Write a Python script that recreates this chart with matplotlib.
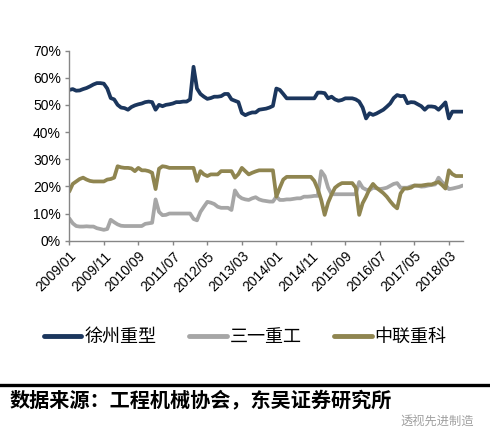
import matplotlib
matplotlib.use("Agg")
import matplotlib.pyplot as plt
import numpy as np
import pandas as pd

plt.rcParams['font.family'] = ['Liberation Sans', 'Noto Sans CJK SC', 'DejaVu Sans']

# monthly data 2009/01 .. 2018/07
months = pd.period_range('2009-01', periods=115, freq='M')
tick_labels = ['2009/01', '2009/11', '2010/09', '2011/07', '2012/05', '2013/03',
               '2014/01', '2014/11', '2015/09', '2016/07', '2017/05', '2018/03']
series_names = ['徐州重型', '三一重工', '中联重科']

xcmg = [55.5, 55.8, 55.2, 55.3, 55.8, 56.2, 56.8, 57.5, 58, 58,
        57.8, 56, 52.5, 52, 50, 49, 48.8, 48.2, 49.2, 49.8,
        50.2, 50.5, 51, 51.2, 51, 48.2, 50, 49.5, 50, 50.2,
        50.5, 51, 51, 51.2, 51.2, 52, 64, 56, 54, 53,
        52.2, 52.5, 53, 53, 53.2, 54, 54, 52, 51.5, 51,
        47, 46.2, 46.8, 47.2, 47.2, 48.2, 48.4, 48.6, 49, 49.6,
        56, 55.5, 54, 52.4, 52.4, 52.4, 52.4, 52.4, 52.4, 52.4,
        52.4, 52.4, 54.5, 54.5, 54.3, 52.4, 53, 52, 51.5, 51.8,
        52.4, 52.4, 52.4, 52, 51.2, 49, 45, 46.9, 46.3, 46.8,
        47.5, 48.2, 49.3, 50.5, 52.5, 53.6, 53.2, 53.3, 50.6, 51,
        50.9, 50.2, 49.5, 48.2, 49.4, 49.4, 49.2, 48.2, 49.5, 50.9,
        45, 47.5, 47.5, 47.5, 47.5]

sany = [8.2, 6.4, 5.4, 5.2, 5.2, 5.3, 5.2, 5.2, 4.6, 4.3,
        4, 4.3, 7.7, 6.8, 6, 5.5, 5.4, 5.4, 5.4, 5.4,
        5.4, 5.4, 6.2, 6.4, 6.6, 15.2, 10.6, 9.4, 9.5, 10,
        10, 10, 10, 10, 10, 10, 8, 7.5, 10.6, 12.5,
        14.3, 14, 13.5, 12.5, 12.1, 12.1, 12.1, 11.3, 18.5, 16.5,
        15.6, 15.2, 15, 15.6, 16, 15.2, 14.8, 14.6, 14.4, 14.4,
        16.2, 15, 15, 15.2, 15.2, 15.4, 15.6, 15.6, 16.2, 16.2,
        16.3, 16.5, 16.5, 25.6, 23.8, 19.5, 17.1, 17.1, 17.1, 17.1,
        17.1, 17.1, 17.1, 17.1, 21.6, 19.5, 18.8, 18.6, 19.5, 19.3,
        19, 19.2, 19.5, 20.2, 20.9, 21.2, 19.5, 19.5, 19.5, 20,
        20.3, 20.2, 19.9, 20, 20.3, 20.5, 20.7, 23.2, 21.6, 20.5,
        19, 19.2, 19.5, 19.8, 20.3]

zoomlion = [18.1, 20.9, 21.8, 22.7, 23.2, 22.5, 22, 21.8, 21.8, 21.8,
            21.8, 22.5, 22.7, 23.2, 27.4, 27, 26.8, 26.8, 26.6, 25.6,
            26.8, 25.9, 25.9, 25.6, 25, 19, 26.5, 27.4, 27.2, 26.8,
            26.8, 26.8, 26.8, 26.8, 26.8, 26.8, 26.8, 22, 25.6, 24.4,
            23.8, 24.4, 24.4, 24.4, 25.6, 25.6, 25.6, 25.6, 23.2, 24.5,
            26.8, 25.6, 24.4, 25, 25.5, 25.9, 25.9, 25.9, 25.9, 25.9,
            16.2, 19.5, 22.5, 23.5, 23.5, 23.5, 23.5, 23.5, 23.5, 23.5,
            23.5, 22, 19, 15, 9.5, 14, 17, 19.5, 20.5, 21.2,
            21.2, 21.2, 21.2, 19.5, 9.5, 13.8, 16.2, 19, 20.9, 19.5,
            18.5, 17.5, 16.2, 14.5, 13, 11.9, 17.4, 19.2, 19.2, 19.5,
            20.3, 20.3, 20.3, 20.5, 20.7, 20.7, 21.2, 21.6, 20.5, 19.2,
            25.9, 24.5, 23.8, 23.8, 23.8]

colors = ['#1B365D', '#A6A6A6', '#8F8550']

fig = plt.figure(figsize=(4.9, 4.42), dpi=100)
ax = fig.add_axes([69.3 / 490, 1 - 240.7 / 442, (462.7 - 69.3) / 490, (240.7 - 50.5) / 442])

labels_all = [p.strftime('%Y/%m') for p in months]
x = np.arange(len(months))
for vals, name, c in zip([xcmg, sany, zoomlion], series_names, colors):
    ax.plot(x, vals, color=c, lw=2.7, label=name, solid_joinstyle='round', solid_capstyle='round')

ax.set_xlim(0, len(months) - 1)
ax.set_ylim(0, 70)
ax.set_yticks(np.arange(0, 71, 10))
ax.set_yticklabels([f'{v}%' for v in range(0, 71, 10)], fontsize=10)
tick_pos = [labels_all.index(t) for t in tick_labels]
ax.set_xticks(tick_pos)
ax.set_xticklabels(tick_labels, rotation=45, ha='right', rotation_mode='anchor', fontsize=10)
for s in ['top', 'right']:
    ax.spines[s].set_visible(False)
for s in ['left', 'bottom']:
    ax.spines[s].set_color('#868686')
    ax.spines[s].set_linewidth(1.0)
ax.tick_params(axis='both', colors='#868686', labelcolor='black', length=3, width=1)
ax.tick_params(axis='y', pad=3)
ax.tick_params(axis='x', pad=3)

leg = fig.legend(loc='center', bbox_to_anchor=(0.5, 1 - 337 / 442), ncol=3, frameon=False,
                 prop={'family': ['Noto Sans CJK SC'], 'size': 13}, handlelength=2.1,
                 columnspacing=1.8, handletextpad=0.15)
for line in leg.get_lines():
    line.set_linewidth(3.5)

fig.add_artist(plt.Line2D([0, 1], [1 - 385 / 442, 1 - 385 / 442], color='black', lw=2.4,
                          transform=fig.transFigure))
fig.text(10 / 490, 1 - 400 / 442, '数据来源：工程机械协会，东吴证券研究所', fontsize=14.5,
         fontweight='bold', family=['Noto Sans CJK SC'], va='center', ha='left')
fig.text(474 / 490, 1 - 421 / 442, '透视先进制造', fontsize=8.8, color='#A0A0A0',
         family=['Noto Sans CJK SC'], va='center', ha='right')

fig.savefig('out.png', dpi=100)
